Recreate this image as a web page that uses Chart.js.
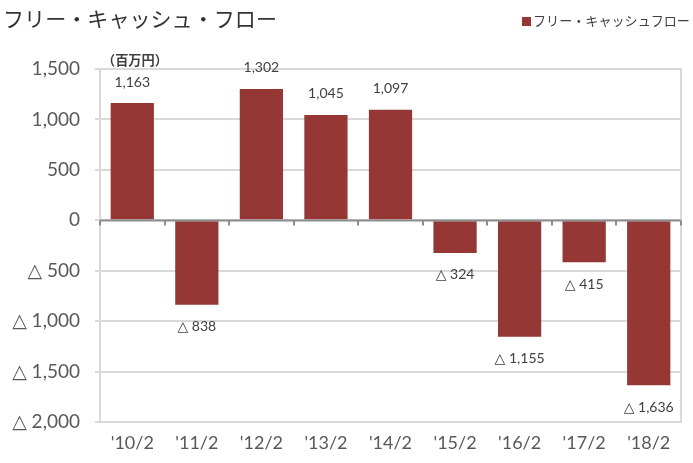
<!DOCTYPE html>
<html>
<head>
<meta charset="utf-8">
<script src="https://cdn.jsdelivr.net/npm/chart.js@4"></script>
<style>
  html, body { margin: 0; padding: 0; background: #fff; }
  #wrap { width: 693px; height: 463px; position: relative; }
</style>
</head>
<body>
<div id="wrap"><canvas id="myChart" width="693" height="463"></canvas></div>
<script>
// data
const labels = ["'10/2", "'11/2", "'12/2", "'13/2", "'14/2", "'15/2", "'16/2", "'17/2", "'18/2"];
const fcf = [1163, -838, 1302, 1045, 1097, -324, -1155, -415, -1636];
const yTicks = [-2000, -1500, -1000, -500, 0, 500, 1000, 1500];

const title = 'フリー・キャッシュ・フロー';
const seriesName = 'フリー・キャッシュフロー';
const unitText = '（百万円）';

const barColor = '#953735';
const numFont = "Lato, 'DejaVu Sans', 'Noto Sans CJK JP', sans-serif";
const jpFont = "'Noto Sans CJK JP', sans-serif";

function fmt(v) {
  const s = Math.abs(v).toLocaleString('en-US');
  return v < 0 ? '△ ' + s : s;
}

// draw text squeezed to a given width (fonts differ from the original)
function fitText(ctx, txt, x, y, size, width, weight) {
  ctx.font = (weight || '') + ' ' + size + 'px ' + jpFont;
  const w = ctx.measureText(txt).width;
  if (w > width) {
    ctx.font = (weight || '') + ' ' + (size * width / w).toFixed(2) + 'px ' + jpFont;
  }
  ctx.fillText(txt, x, y);
}

// extra drawing: title, legend, unit, border, zero-line ticks, value labels
const extras = {
  id: 'extras',
  beforeDatasetsDraw(chart) {
    const ctx = chart.ctx, a = chart.chartArea;
    ctx.save();
    ctx.strokeStyle = '#d9d9d9';
    ctx.lineWidth = 2;
    ctx.beginPath();
    ctx.moveTo(a.left, a.top);
    ctx.lineTo(a.right, a.top);
    ctx.lineTo(a.right, a.bottom);
    ctx.lineTo(a.left, a.bottom);
    ctx.stroke();
    ctx.restore();
  },
  afterDatasetsDraw(chart) {
    const ctx = chart.ctx, a = chart.chartArea;
    const x = chart.scales.x, y = chart.scales.y;
    ctx.save();
    // zero line + ticks
    const y0 = Math.round(y.getPixelForValue(0)) + 0.5;
    ctx.strokeStyle = '#8c8c8c';
    ctx.lineWidth = 2;
    ctx.beginPath();
    ctx.moveTo(a.left, y0);
    ctx.lineTo(a.right, y0);
    for (let i = 0; i <= labels.length; i++) {
      const px = Math.round(x.getPixelForValue(i - 0.5));
      ctx.moveTo(px, y0);
      ctx.lineTo(px, y0 + 5);
    }
    ctx.stroke();

    // value labels
    const meta = chart.getDatasetMeta(0);
    ctx.fillStyle = '#404040';
    ctx.font = '14px ' + numFont;
    ctx.textAlign = 'center';
    ctx.textBaseline = 'middle';
    meta.data.forEach((bar, i) => {
      const v = fcf[i];
      const py = v >= 0 ? bar.y - 21 : bar.y + 22;
      ctx.fillText(fmt(v), bar.x, py);
    });

    ctx.textAlign = 'left';
    // unit
    ctx.fillStyle = '#404040';
    fitText(ctx, unitText, 102, 60, 14, 66, 'bold');

    // title
    ctx.fillStyle = '#333333';
    fitText(ctx, title, 3, 19, 24, 274);

    // legend
    ctx.fillStyle = barColor;
    ctx.fillRect(522, 17, 9, 9);
    ctx.fillStyle = '#404040';
    fitText(ctx, seriesName, 533, 21, 15, 157);
    ctx.restore();
  }
};

const ctx = document.getElementById('myChart').getContext('2d');
const myChart = new Chart(ctx, {
  type: 'bar',
  data: {
    labels: labels,
    datasets: [{
      label: seriesName,
      data: fcf,
      backgroundColor: barColor,
      borderWidth: 0,
      barPercentage: 0.67,
      categoryPercentage: 1.0
    }]
  },
  options: {
    responsive: false,
    animation: false,
    layout: { padding: { top: 69, right: 12, left: 0, bottom: 0 } },
    plugins: {
      legend: { display: false },
      title: { display: false },
      tooltip: { enabled: false }
    },
    scales: {
      x: {
        grid: { display: false, drawTicks: false },
        border: { display: false },
        ticks: {
          color: '#595959',
          font: { family: numFont, size: 18 },
          padding: 10,
          maxRotation: 0
        },
        afterFit(s) { s.height = 41; }
      },
      y: {
        min: -2000,
        max: 1500,
        afterBuildTicks(s) { s.ticks = yTicks.map(v => ({ value: v })); },
        grid: {
          color: '#d9d9d9',
          lineWidth: 2,
          tickLength: 5,
          drawTicks: true
        },
        border: { display: true, color: '#d9d9d9', width: 2 },
        ticks: {
          color: '#595959',
          font: { family: numFont, size: 19 },
          padding: 15,
          callback: v => fmt(v)
        },
        afterFit(s) { s.width = 100; }
      }
    }
  },
  plugins: [extras]
});
</script>
</body>
</html>
